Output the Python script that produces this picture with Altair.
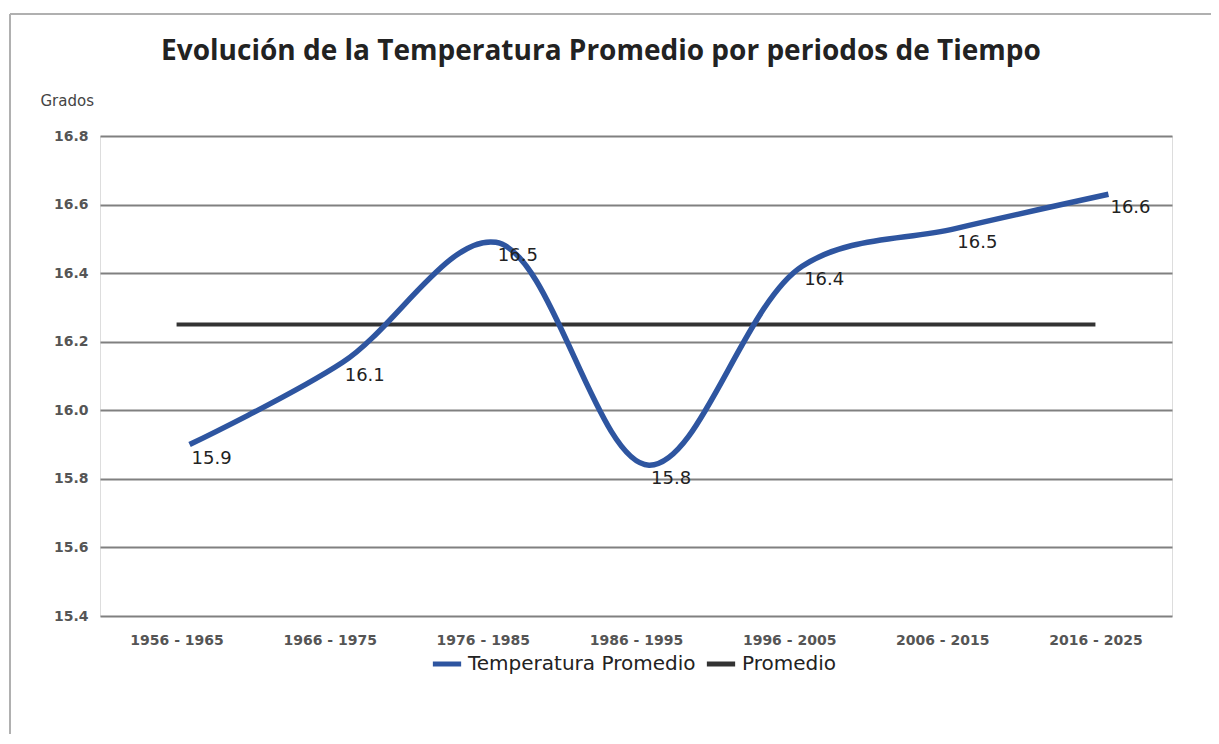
import altair as alt
import pandas as pd

periodos = ["1956 - 1965", "1966 - 1975", "1976 - 1985", "1986 - 1995",
            "1996 - 2005", "2006 - 2015", "2016 - 2025"]
temperatura = [15.90, 16.14, 16.49, 15.84, 16.42, 16.53, 16.63]
promedio = [16.25, 16.25, 16.25, 16.25, 16.25, 16.25, 16.25]
series = ["Temperatura Promedio", "Promedio"]
y_ticks = [15.4, 15.6, 15.8, 16.0, 16.2, 16.4, 16.6, 16.8]

BLUE = "#2E55A0"
DARK = "#333333"
FONT = "DejaVu Sans"

df_t = pd.DataFrame({"periodo": periodos, "valor": temperatura, "serie": series[0]})
df_p = pd.DataFrame({"periodo": periodos, "valor": promedio, "serie": series[1]})

x_enc = alt.X("periodo:N", sort=periodos,
              scale=alt.Scale(type="point", padding=0.5),
              axis=alt.Axis(title=None, labelAngle=0, labelFontSize=14,
                            labelFontWeight="bold", labelColor="#555555",
                            labelPadding=17, ticks=False, domain=False, grid=False,
                            labelFont=FONT))
y_enc = alt.Y("valor:Q", scale=alt.Scale(domain=[15.4, 16.8], nice=False, zero=False),
              axis=alt.Axis(values=y_ticks, format=".1f", title="Grados",
                            titleAngle=0, titleX=-60, titleY=-36, titleAlign="left",
                            titleBaseline="middle", titleFontSize=15,
                            titleFontWeight="normal", titleColor="#444444",
                            titleFont=FONT,
                            labelFontSize=14, labelFontWeight="bold",
                            labelColor="#555555", labelPadding=12, labelFont=FONT,
                            ticks=False, domain=False, grid=True,
                            gridColor="#808080", gridWidth=2))
color_enc = alt.Color("serie:N",
                      scale=alt.Scale(domain=series, range=[BLUE, DARK]),
                      legend=alt.Legend(title=None, orient="none", direction="horizontal",
                                        legendX=330, legendY=511,
                                        symbolType="stroke", symbolStrokeWidth=5,
                                        symbolSize=800, labelFontSize=20,
                                        labelFont=FONT, labelColor="#222222",
                                        labelLimit=0,
                                        columnPadding=0, labelOffset=4))

prom = alt.Chart(df_p).mark_line(strokeWidth=4, interpolate="catmull-rom").encode(
    x=x_enc, y=y_enc, color=color_enc)

temp = alt.Chart(df_t).mark_line(strokeWidth=5.5, interpolate="catmull-rom", xOffset=13).encode(
    x=x_enc, y=y_enc, color=color_enc)

labels = alt.Chart(df_t).mark_text(align="left", baseline="top", dx=15, dy=5,
                                   fontSize=18, font=FONT, color="#222222").encode(
    x=x_enc, y=y_enc, text=alt.Text("valor:Q", format=".1f"))

frame_left = alt.Chart(df_t).mark_rule(color="#b0b0b0", strokeWidth=2).encode(
    x=alt.value(-90), y=alt.value(-122), y2=alt.value(600))
frame_top = alt.Chart(df_t).mark_rule(color="#b0b0b0", strokeWidth=2).encode(
    x=alt.value(-90), x2=alt.value(1111), y=alt.value(-122))

chart = alt.layer(frame_left, frame_top, prom, temp, labels).properties(
    width=1072, height=480,
    title=alt.TitleParams("Evolución de la Temperatura Promedio por periodos de Tiempo",
                          fontSize=28, fontWeight="bold", font="Open Sans", color="#222222",
                          anchor="middle", dx=-35, offset=0, dy=53),
    autosize=alt.AutoSizeParams(type="none"),
    padding={"left": 92, "top": 128, "right": 39, "bottom": 118},
).configure_view(stroke="#666666", strokeWidth=2).configure(background="white")

chart.save("out.html", embed_options={"renderer": "svg", "actions": False})
